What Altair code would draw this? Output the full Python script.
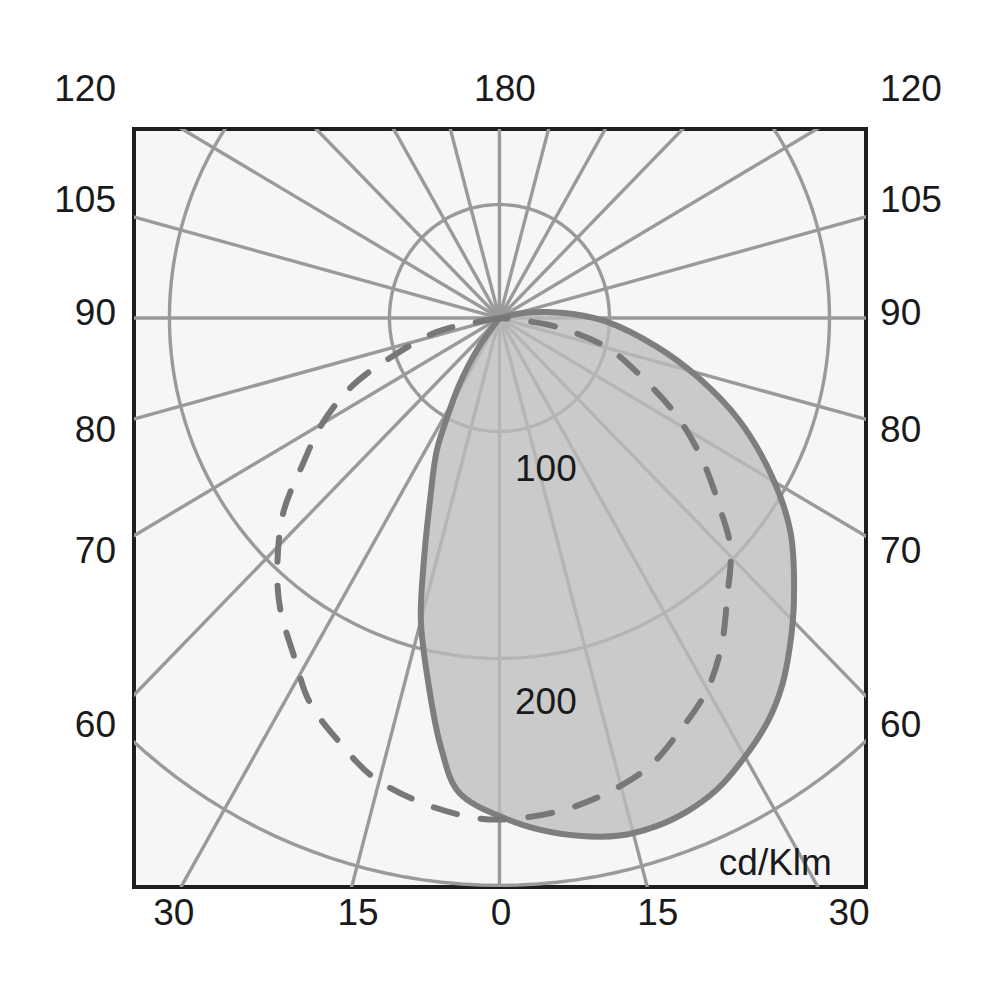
import numpy as np
import pandas as pd
import altair as alt

# ---- data (gamma angle in degrees, 0 = down, negative = left; intensity in cd/klm)
solid_angle = [-36, -32, -28.5, -26, -21.5, -17.5, -15, -11.5, -8, -5, 1, 4.5, 9, 13.5, 17.5, 21.5,
               25.5, 29.5, 34.5, 38.5, 42.5, 47, 54.5, 60.5, 67.5, 74, 80, 88, 93, 97, 101.5]
solid_cd = [17, 34, 50, 65, 86, 115, 138, 163, 191, 210, 221, 226, 231, 234.5, 235, 233.5,
            230, 224, 215.5, 206.5, 195.5, 183, 162.5, 142.5, 118, 93.5, 72.5, 49, 33.5, 22, 11]

dashed_angle = [-80, -78, -71, -66, -60, -54, -49, -43, -38, -32, -27, -21, -16, -10, -4, 0, 7, 13,
                19, 24, 30, 35, 40, 46, 50, 56, 62, 68, 75, 81, 85]
dashed_cd = [12, 29, 51, 73, 93, 111, 130, 148, 162, 176, 190, 201, 210, 216, 220, 221, 219, 215,
             209, 200, 189, 176, 161, 146, 131, 111, 91, 70, 51, 28, 9]

ring_values = [50, 150, 250]
ray_angles = list(range(0, 360, 15))

side_labels = ["120", "105", "90", "80", "70", "60"]
top_label = "180"
bottom_labels = ["30", "15", "0", "15", "30"]
ring_labels = ["100", "200"]
unit_label = "cd/Klm"

# ---- layout (positions in plot units)
X_DOMAIN = [-166.1, 166.6]
Y_DOMAIN = [-250.7, 83.3]
side_label_y = [95.6, 46.7, -3.1, -54.6, -107.9, -184.6]
left_label_x = -174.3
right_label_x = 173.0
top_label_x = 2.5
bottom_label_x = [-148.0, -64.3, 0.7, 72.0, 158.9]
bottom_label_y = -267.4
ring_label_x = 21.1
ring_label_y = [-71.8, -174.4]
unit_label_xy = (151.1, -245.4)

FONT = "Liberation Sans"
GRID = "#9a9a9a"


def polar(angles, values):
    a = np.radians(np.asarray(angles, float))
    v = np.asarray(values, float)
    return v * np.sin(a), -v * np.cos(a)


def closed_curve(angles, values):
    x, y = polar(angles, values)
    x = np.concatenate([[0.0], x, [0.0]])
    y = np.concatenate([[0.0], y, [0.0]])
    return pd.DataFrame({"x": x, "y": y, "i": np.arange(len(x))})


xs = alt.Scale(domain=X_DOMAIN, nice=False, zero=False)
ys = alt.Scale(domain=Y_DOMAIN, nice=False, zero=False)

# rings
ring_rows = []
t = np.arange(0, 361, 2)
for r in ring_values:
    rx, ry = polar(t, np.full(len(t), r))
    for k in range(len(t)):
        ring_rows.append({"ring": r, "x": rx[k], "y": ry[k], "i": k})
rings_df = pd.DataFrame(ring_rows)
rings = alt.Chart(rings_df).mark_line(clip=True, color=GRID, strokeWidth=3.4).encode(
    x=alt.X("x:Q", scale=xs, axis=None),
    y=alt.Y("y:Q", scale=ys, axis=None),
    detail="ring:N",
    order="i:Q",
)

# rays
rx2, ry2 = polar(ray_angles, np.full(len(ray_angles), 800))
rays_df = pd.DataFrame({"x": 0.0, "y": 0.0, "x2": rx2, "y2": ry2})
rays = alt.Chart(rays_df).mark_rule(clip=True, color=GRID, strokeWidth=3.4).encode(
    x=alt.X("x:Q", scale=xs, axis=None),
    y=alt.Y("y:Q", scale=ys, axis=None),
    x2="x2:Q",
    y2="y2:Q",
)

solid_df = closed_curve(solid_angle, solid_cd)
solid = alt.Chart(solid_df).mark_line(
    fill="#bcbcbe", fillOpacity=0.77, stroke="#7e7e7e", strokeWidth=6, strokeJoin="round",
    interpolate="catmull-rom",
).encode(
    x=alt.X("x:Q", scale=xs, axis=None),
    y=alt.Y("y:Q", scale=ys, axis=None),
    order="i:Q",
)

dashed_df = closed_curve(dashed_angle, dashed_cd)
dashed = alt.Chart(dashed_df).mark_line(
    stroke="#777777", strokeWidth=6, strokeDash=[24, 24], strokeCap="round", strokeJoin="round",
    interpolate="catmull-rom",
).encode(
    x=alt.X("x:Q", scale=xs, axis=None),
    y=alt.Y("y:Q", scale=ys, axis=None),
    order="i:Q",
)

text_style = dict(font=FONT, fontSize=37, color="#1a1a1a", baseline="alphabetic")

left_df = pd.DataFrame({"t": side_labels, "x": left_label_x, "y": side_label_y})
right_df = pd.DataFrame({"t": side_labels, "x": right_label_x, "y": side_label_y})
center_df = pd.DataFrame({
    "t": [top_label] + bottom_labels + ring_labels,
    "x": [top_label_x] + bottom_label_x + [ring_label_x, ring_label_x],
    "y": [side_label_y[0]] + [bottom_label_y] * len(bottom_labels) + ring_label_y,
})
unit_df = pd.DataFrame({"t": [unit_label], "x": [unit_label_xy[0]], "y": [unit_label_xy[1]]})


def text_layer(df, align):
    return alt.Chart(df).mark_text(align=align, **text_style).encode(
        x=alt.X("x:Q", scale=xs, axis=None),
        y=alt.Y("y:Q", scale=ys, axis=None),
        text="t:N",
    )


chart = alt.layer(
    rings, rays, solid, dashed,
    text_layer(left_df, "right"),
    text_layer(right_df, "left"),
    text_layer(center_df, "center"),
    text_layer(unit_df, "right"),
).properties(
    width=732,
    height=758,
    autosize=alt.AutoSizeParams(type="none"),
    padding={"left": 126, "top": 121, "right": 120, "bottom": 100},
    background="white",
).configure_view(
    fill="#f6f6f7", stroke="#1e1e1e", strokeWidth=4
)

chart.save("out.html", embed_options={"renderer": "svg", "actions": False})
